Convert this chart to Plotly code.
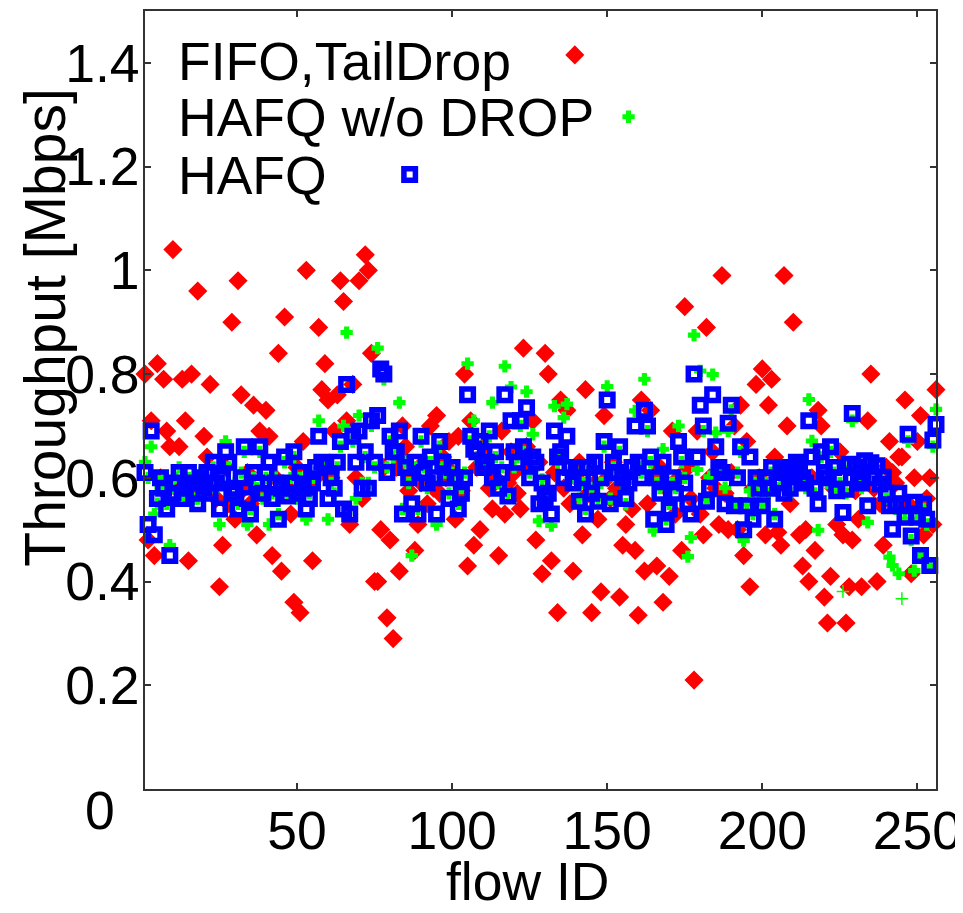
import plotly.graph_objects as go

# ---------------- data ----------------
flow_id = list(range(1, 257))

fifo_taildrop = [
    0.80, 0.48, 0.71, 0.45, 0.82, 0.60, 0.79, 0.69, 0.66, 1.04,
    0.58, 0.66, 0.79, 0.71, 0.44, 0.80, 0.57, 0.96, 0.60, 0.68,
    0.64, 0.78, 0.59, 0.56, 0.39, 0.47, 0.62, 0.55, 0.90, 0.52,
    0.98, 0.76, 0.58, 0.61, 0.55, 0.74, 0.49, 0.69, 0.57, 0.73,
    0.68, 0.45, 0.60, 0.84, 0.42, 0.91, 0.58, 0.53, 0.36, 0.62,
    0.34, 0.67, 1.00, 0.58, 0.44, 0.60, 0.89, 0.77, 0.82, 0.75,
    0.60, 0.69, 0.76, 0.98, 0.94, 0.71, 0.51, 0.78, 0.60, 0.98,
    0.56, 1.03, 1.00, 0.84, 0.40, 0.40, 0.50, 0.62, 0.33, 0.48,
    0.29, 0.62, 0.42, 0.70, 0.66, 0.575, 0.60, 0.46, 0.51, 0.59,
    0.63, 0.55, 0.70, 0.58, 0.72, 0.57, 0.64, 0.60, 0.67, 0.61,
    0.52, 0.68, 0.575, 0.80, 0.43, 0.71, 0.47, 0.62, 0.50, 0.66,
    0.63, 0.58, 0.54, 0.60, 0.45, 0.69, 0.53, 0.59, 0.65, 0.61,
    0.57, 0.54, 0.85, 0.66, 0.62, 0.71, 0.48, 0.63, 0.415, 0.84,
    0.80, 0.44, 0.61, 0.34, 0.75, 0.58, 0.73, 0.55, 0.42, 0.60,
    0.63, 0.49, 0.77, 0.57, 0.34, 0.59, 0.52, 0.38, 0.72, 0.60,
    0.56, 0.63, 0.58, 0.37, 0.47, 0.51, 0.60, 0.54, 0.46, 0.335,
    0.75, 0.42, 0.55, 0.73, 0.60, 0.43, 0.62, 0.36, 0.58, 0.41,
    0.69, 0.53, 0.60, 0.46, 0.93, 0.62, 0.56, 0.21, 0.69, 0.53,
    0.49, 0.89, 0.60, 0.65, 0.58, 0.51, 0.99, 0.57, 0.50, 0.61,
    0.70, 0.50, 0.74, 0.45, 0.67, 0.39, 0.58, 0.78, 0.60, 0.81,
    0.49, 0.74, 0.79, 0.64, 0.495, 0.47, 0.99, 0.70, 0.55, 0.90,
    0.60, 0.49, 0.43, 0.50, 0.40, 0.60, 0.46, 0.73, 0.70, 0.37,
    0.32, 0.41, 0.58, 0.51, 0.65, 0.49, 0.32, 0.39, 0.48, 0.575,
    0.52, 0.39, 0.60, 0.71, 0.80, 0.58, 0.40, 0.55, 0.47, 0.62,
    0.67, 0.61, 0.59, 0.64, 0.64, 0.75, 0.55, 0.415, 0.60, 0.67,
    0.72, 0.49, 0.56, 0.60, 0.51, 0.77,
]

hafq_wo_drop = [
    0.63, 0.60, 0.66, 0.53, 0.55, 0.58, 0.60, 0.55, 0.47, 0.58,
    0.60, 0.62, 0.57, 0.56, 0.60, 0.58, 0.56, 0.56, 0.61, 0.59,
    0.60, 0.58, 0.62, 0.58, 0.51, 0.59, 0.67, 0.62, 0.56, 0.59,
    0.55, 0.61, 0.65, 0.51, 0.54, 0.60, 0.58, 0.65, 0.56, 0.60,
    0.51, 0.57, 0.60, 0.53, 0.57, 0.63, 0.57, 0.60, 0.64, 0.56,
    0.60, 0.57, 0.52, 0.57, 0.60, 0.61, 0.71, 0.62, 0.62, 0.52,
    0.59, 0.57, 0.62, 0.66, 0.70, 0.88, 0.54, 0.67, 0.56, 0.72,
    0.59, 0.64, 0.59, 0.70, 0.62, 0.85, 0.80, 0.79, 0.62, 0.67,
    0.64, 0.66, 0.745, 0.54, 0.63, 0.59, 0.45, 0.62, 0.54, 0.67,
    0.62, 0.58, 0.63, 0.59, 0.51, 0.66, 0.62, 0.61, 0.57, 0.61,
    0.59, 0.55, 0.58, 0.61, 0.82, 0.67, 0.71, 0.64, 0.66, 0.63,
    0.62, 0.68, 0.745, 0.64, 0.59, 0.62, 0.815, 0.57, 0.775, 0.62,
    0.64, 0.70, 0.65, 0.766, 0.61, 0.684, 0.62, 0.517, 0.597, 0.57,
    0.56, 0.508, 0.738, 0.63, 0.64, 0.716, 0.742, 0.61, 0.60, 0.61,
    0.56, 0.59, 0.54, 0.61, 0.58, 0.62, 0.56, 0.59, 0.66, 0.776,
    0.56, 0.62, 0.60, 0.65, 0.59, 0.549, 0.60, 0.61, 0.729, 0.62,
    0.61, 0.79, 0.69, 0.63, 0.498, 0.59, 0.58, 0.655, 0.52, 0.55,
    0.59, 0.58, 0.70, 0.63, 0.60, 0.448, 0.485, 0.875, 0.616, 0.806,
    0.69, 0.56, 0.602, 0.799, 0.687, 0.61, 0.62, 0.581, 0.69, 0.73,
    0.55, 0.61, 0.65, 0.479, 0.55, 0.575, 0.53, 0.59, 0.57, 0.55,
    0.59, 0.57, 0.61, 0.53, 0.58, 0.60, 0.58, 0.61, 0.57, 0.60,
    0.62, 0.61, 0.59, 0.58, 0.751, 0.671, 0.57, 0.499, 0.64, 0.60,
    0.59, 0.65, 0.61, 0.58, 0.59, 0.381, 0.57, 0.62, 0.71, 0.61,
    0.59, 0.58, 0.62, 0.514, 0.62, 0.59, 0.61, 0.58, 0.59, 0.56,
    0.447, 0.431, 0.54, 0.415, 0.367, 0.52, 0.67, 0.48, 0.421, 0.52,
    0.45, 0.54, 0.51, 0.43, 0.66, 0.732,
]

hafq = [
    0.61, 0.51, 0.69, 0.49, 0.56, 0.60, 0.58, 0.54, 0.45, 0.57,
    0.59, 0.61, 0.56, 0.58, 0.61, 0.59, 0.57, 0.55, 0.60, 0.58,
    0.61, 0.57, 0.63, 0.59, 0.54, 0.60, 0.65, 0.63, 0.57, 0.58,
    0.54, 0.60, 0.66, 0.56, 0.53, 0.61, 0.59, 0.66, 0.57, 0.61,
    0.63, 0.56, 0.59, 0.52, 0.58, 0.64, 0.565, 0.59, 0.65, 0.57,
    0.61, 0.58, 0.54, 0.56, 0.59, 0.62, 0.68, 0.63, 0.625, 0.56,
    0.60, 0.58, 0.63, 0.67, 0.54, 0.78, 0.53, 0.68, 0.63, 0.69,
    0.58, 0.65, 0.58, 0.71, 0.63, 0.72, 0.81, 0.80, 0.61, 0.68,
    0.65, 0.65, 0.69, 0.53, 0.62, 0.60, 0.55, 0.63, 0.53, 0.68,
    0.61, 0.59, 0.64, 0.60, 0.53, 0.67, 0.63, 0.60, 0.56, 0.62,
    0.60, 0.54, 0.57, 0.60, 0.76, 0.68, 0.655, 0.65, 0.67, 0.62,
    0.63, 0.69, 0.60, 0.65, 0.58, 0.61, 0.76, 0.565, 0.71, 0.65,
    0.63, 0.71, 0.66, 0.735, 0.60, 0.64, 0.63, 0.55, 0.59, 0.56,
    0.57, 0.53, 0.69, 0.64, 0.65, 0.60, 0.68, 0.62, 0.59, 0.62,
    0.555, 0.60, 0.53, 0.62, 0.57, 0.63, 0.555, 0.60, 0.67, 0.75,
    0.55, 0.63, 0.61, 0.66, 0.60, 0.56, 0.59, 0.62, 0.70, 0.63,
    0.60, 0.73, 0.70, 0.64, 0.52, 0.60, 0.57, 0.63, 0.51, 0.54,
    0.60, 0.57, 0.67, 0.64, 0.59, 0.55, 0.53, 0.80, 0.64, 0.74,
    0.70, 0.555, 0.58, 0.76, 0.66, 0.62, 0.61, 0.55, 0.705, 0.74,
    0.546, 0.60, 0.66, 0.50, 0.546, 0.64, 0.52, 0.60, 0.58, 0.546,
    0.60, 0.58, 0.62, 0.52, 0.59, 0.61, 0.57, 0.62, 0.58, 0.61,
    0.63, 0.62, 0.60, 0.59, 0.71, 0.64, 0.58, 0.55, 0.65, 0.61,
    0.60, 0.66, 0.62, 0.575, 0.60, 0.533, 0.578, 0.626, 0.724, 0.62,
    0.60, 0.59, 0.633, 0.546, 0.629, 0.60, 0.623, 0.588, 0.601, 0.57,
    0.546, 0.501, 0.549, 0.57, 0.55, 0.524, 0.684, 0.488, 0.553, 0.524,
    0.45, 0.549, 0.52, 0.431, 0.673, 0.703,
]

series_names = ["FIFO,TailDrop", "HAFQ w/o DROP", "HAFQ"]
x_ticks = [50, 100, 150, 200, 250]
y_ticks = [0.2, 0.4, 0.6, 0.8, 1.0, 1.2, 1.4]
y_tick_text = ["0.2", "0.4", "0.6", "0.8", "1", "1.2", "1.4"]

# ---------------- styling / layout ----------------
WIN_W, WIN_H = 963, 913
BODY = 8                                # page body margin of the browser
W, H = WIN_W - BODY, WIN_H - BODY
PL, PR, PT, PB = 145, 940, 9, 789       # plot area in window pixels
FONT = "Liberation Sans, Arial, sans-serif"
FS = 53.5


def px_to_paper(px, py):
    return (px - PL) / (PR - PL), (PB - py) / (PB - PT)


RED, GREEN, BLUE = "#ff0000", "#00ff00", "#0000ff"
red_marker = dict(symbol="diamond", size=12, color=RED, line=dict(color=RED, width=2.5))
green_marker_key = dict(symbol="cross", size=9, color=GREEN, line=dict(color=GREEN, width=1.5))
blue_marker = dict(symbol="square-open", size=11.5, color=BLUE, line=dict(color=BLUE, width=5.5))

thin_green = {226, 245}
green_symbols = ["cross-thin-open" if i in thin_green else "cross" for i in flow_id]

fig = go.Figure()
fig.add_trace(go.Scatter(
    x=flow_id, y=fifo_taildrop, mode="markers", name=series_names[0],
    marker=red_marker, cliponaxis=False, showlegend=False))
fig.add_trace(go.Scatter(
    x=flow_id, y=hafq_wo_drop, mode="markers", name=series_names[1],
    marker=dict(symbol=green_symbols, size=9, color=GREEN, line=dict(color=GREEN, width=1.5)),
    cliponaxis=False, showlegend=False))
fig.add_trace(go.Scatter(
    x=flow_id, y=hafq, mode="markers", name=series_names[2],
    marker=blue_marker, cliponaxis=False, showlegend=False))

# custom legend (text on the left, key marker to the right, as in the reference)
legend_rows = [
    (series_names[0], 60, (577, 53), red_marker),
    (series_names[1], 116, (631, 115), green_marker_key),
    (series_names[2], 174, (411, 173), blue_marker),
]
annotations = []
for name, ty, (mx, my), mk in legend_rows:
    ax, ay = px_to_paper(176, ty)
    annotations.append(dict(text=name, x=ax, y=ay, xref="paper", yref="paper",
                            xanchor="left", yanchor="middle", showarrow=False,
                            font=dict(family=FONT, size=FS, color="black")))
    kx, ky = px_to_paper(mx, my)
    fig.add_trace(go.Scatter(x=[kx], y=[ky], mode="markers", marker=mk,
                             xaxis="x2", yaxis="y2", showlegend=False,
                             hoverinfo="skip", cliponaxis=False))

# axis titles and the "0" tick label (drawn lower-left as in the reference)
tx, ty = px_to_paper(45, 327)
annotations.append(dict(text="Throughput [Mbps]", x=tx, y=ty, xref="paper", yref="paper",
                        textangle=-90, showarrow=False, xanchor="center", yanchor="middle",
                        font=dict(family=FONT, size=57, color="black")))
tx, ty = px_to_paper(530, 882)
annotations.append(dict(text="flow ID", x=tx, y=ty, xref="paper", yref="paper",
                        showarrow=False, xanchor="center", yanchor="middle",
                        font=dict(family=FONT, size=FS, color="black")))
tx, ty = px_to_paper(100, 811)
annotations.append(dict(text="0", x=tx, y=ty, xref="paper", yref="paper",
                        showarrow=False, xanchor="center", yanchor="middle",
                        font=dict(family=FONT, size=FS, color="black")))

axis_common = dict(showgrid=False, zeroline=False, showline=True, linecolor="#333333",
                   linewidth=1.5, mirror="ticks", ticks="inside", ticklen=6,
                   tickwidth=1.5, tickcolor="#333333", ticklabeloverflow="allow",
                   tickfont=dict(family=FONT, size=FS, color="black"))

fig.update_layout(
    width=W, height=H,
    margin=dict(l=PL - BODY, r=WIN_W - PR, t=PT - BODY, b=WIN_H - PB, pad=0),
    paper_bgcolor="white", plot_bgcolor="white",
    showlegend=False,
    xaxis=dict(range=[1, 256], tickvals=x_ticks, ticktext=[str(v) for v in x_ticks],
               ticklabelstandoff=-6, **axis_common),
    yaxis=dict(range=[0, 1.5], tickvals=y_ticks, ticktext=y_tick_text,
               ticklabelstandoff=-7, **axis_common),
    xaxis2=dict(range=[0, 1], overlaying="x", visible=False),
    yaxis2=dict(range=[0, 1], overlaying="y", visible=False),
    annotations=annotations,
)

fig.write_html("out.html")
